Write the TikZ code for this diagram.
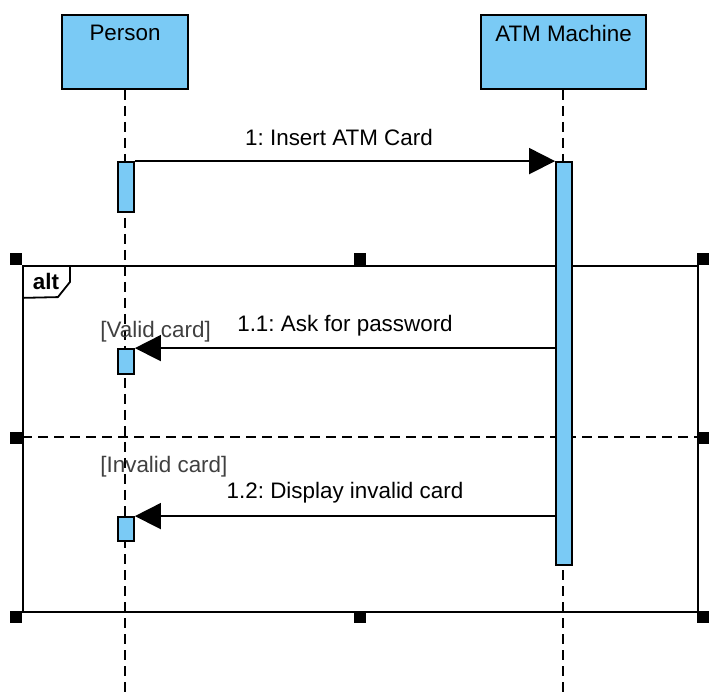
\documentclass[tikz,border=0pt]{standalone}
\usepackage{fontspec}
\setmainfont{Liberation Sans}
\usetikzlibrary{arrows.meta, positioning}
\definecolor{LifeBlue}{RGB}{122,202,245}
\frenchspacing

\begin{document}
\begin{tikzpicture}[x=0.5pt, y=-0.5pt, font=\fontsize{11.2}{13}\selectfont,
	head/.style={rectangle, draw, line width=1pt, fill=LifeBlue, minimum width=63pt, minimum height=37pt, inner sep=0pt},
	act/.style={rectangle, draw, line width=0.9pt, fill=LifeBlue, minimum width=8pt, inner sep=0pt},
	life/.style={line width=0.9pt, dash pattern=on 5pt off 3pt},
	msg/.style={line width=0.9pt, -{Triangle[length=13pt, width=13pt]}},
	guard/.style={text=black!75, inner sep=0pt},
	frm/.style={rectangle, draw, line width=0.9pt, minimum width=337.5pt, minimum height=173pt, inner sep=0pt},
	handle/.style={rectangle, fill=black, minimum size=6pt, inner sep=0pt}]
	\useasboundingbox (0,0) rectangle (722,694);
	\node[head, label={[anchor=north, inner sep=0pt, yshift=-5.5pt]north:Person}] (person) at (125,52) {};
	\node[head, minimum width=82.5pt, label={[anchor=north, inner sep=0pt, yshift=-5.5pt]north:ATM Machine}] (atm) at (563.5,52) {};
	\coordinate (personend) at (125,694);
	\coordinate (atmend) at (563,694);
	\draw[life] (person.south) -- (personend);
	\draw[life] (atm.south -| atmend) -- (atmend);
	\node[frm] (alt) at (360.5,439) {};
	\node[anchor=north west, minimum width=23.5pt, minimum height=16pt, inner sep=0pt, font=\fontsize{11.2}{13}\selectfont\bfseries] (alttag) at (alt.north west) {alt};
	\draw[line width=0.9pt] (alttag.north east) -- ++(0,17) -- ++(-12,15) -- (alttag.south west);
	\coordinate (sep) at (360,437);
	\draw[life] (alt.west |- sep) -- (alt.east |- sep);
	\node[act, minimum height=25pt] (pa) at (126,187) {};
	\node[act, minimum height=201.5pt] (aa) at (564,363.5) {};
	\node[act, minimum height=12.5pt] (pb) at (126,361.5) {};
	\node[act, minimum height=12pt] (pc) at (126,529) {};
	\draw[msg] (pa.north east) -- node[above=4pt, xshift=-3pt] {1: Insert ATM Card} (aa.north west);
	\draw[msg] (aa.west |- pb.north) -- node[above=2pt] {1.1: Ask for password} (pb.north east);
	\draw[msg] (aa.west |- pc.north) -- node[above=2.5pt] {1.2: Display invalid card} (pc.north east);
	\node[guard, anchor=west] (gvalid) at (100,332) {[Valid card]};
	\node[guard, anchor=west] (ginvalid) at (100,467) {[Invalid card]};
	\foreach \hx/\hy [count=\i] in {16/259, 360/259, 703/259, 16/438, 703/438, 16/617, 360/617, 703/617}
		\node[handle] (h\i) at (\hx,\hy) {};
\end{tikzpicture}
\end{document}
